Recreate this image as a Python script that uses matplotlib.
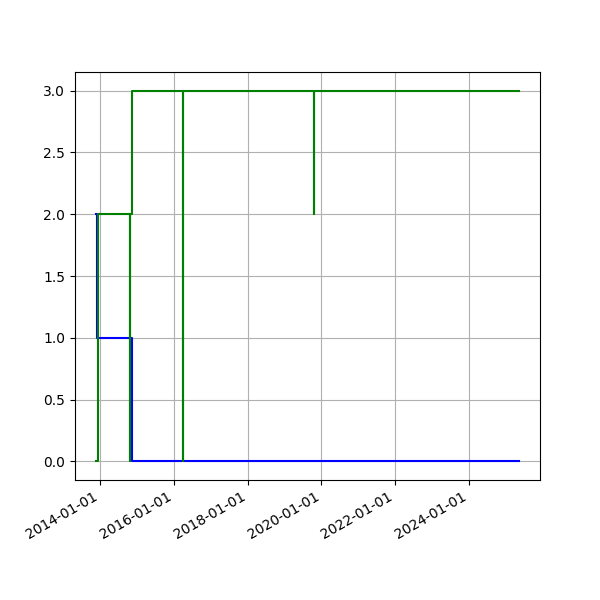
import pandas as pd
import matplotlib
matplotlib.use('Agg')
import matplotlib.pyplot as plt
import matplotlib.dates as mdates

# step series
blue_dates = ['2013-11-22', '2013-11-27', '2014-11-09', '2025-05-10']
blue_values = [2, 1, 0, 0]

green_dates = ['2013-11-22', '2013-12-15', '2014-10-22', '2014-10-23',
               '2014-11-17', '2016-03-27', '2016-03-28', '2019-10-20',
               '2019-10-21', '2025-05-10']
green_values = [0, 2, 0, 2, 3, 0, 3, 2, 3, 3]

blue_dates = pd.to_datetime(blue_dates)
green_dates = pd.to_datetime(green_dates)

fig, ax = plt.subplots(figsize=(6, 6), dpi=100)
ax.step(blue_dates, blue_values, where='post', color='blue')
ax.step(green_dates, green_values, where='post', color='green')
ax.grid(True)
ax.xaxis.set_major_locator(mdates.YearLocator(2))
ax.xaxis.set_major_formatter(mdates.DateFormatter('%Y-%m-%d'))
fig.autofmt_xdate()
plt.savefig('out.png')
